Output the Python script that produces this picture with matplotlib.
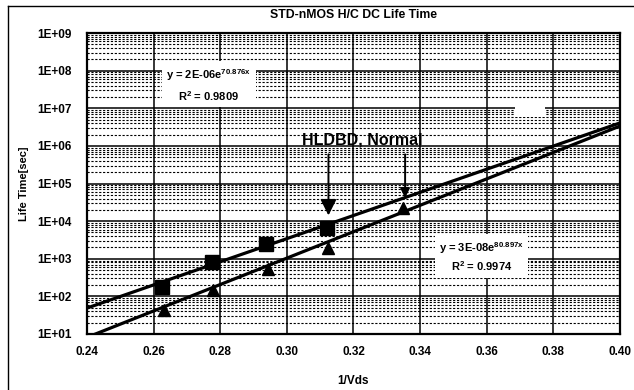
import numpy as np
import matplotlib
matplotlib.use('Agg')
import matplotlib.pyplot as plt
from matplotlib.ticker import LogLocator, NullFormatter
from matplotlib.lines import Line2D

plt.rcParams['font.family'] = ['Liberation Sans', 'DejaVu Sans']
plt.rcParams['mathtext.fontset'] = 'custom'
plt.rcParams['mathtext.rm'] = 'Liberation Sans:bold'
plt.rcParams['mathtext.it'] = 'Liberation Sans:bold'

sq_x = [0.2626, 0.2775, 0.2939, 0.3120]
sq_y = [178, 820, 2450, 6600]
tri_x = [0.2632, 0.2780, 0.2945, 0.3125, 0.3350]
tri_y = [44, 148, 537, 1950, 22000]

# exponential trendlines y = a*exp(b*x), coefficients from the chart labels
fit_a = [2e-6, 3e-8]
fit_b = [70.876, 80.897]
fit_r2 = [0.9809, 0.9974]

x_ticks = [0.24, 0.26, 0.28, 0.30, 0.32, 0.34, 0.36, 0.38, 0.40]
y_ticks = [1e1, 1e2, 1e3, 1e4, 1e5, 1e6, 1e7, 1e8, 1e9]
y_labels = ['1E+01', '1E+02', '1E+03', '1E+04', '1E+05', '1E+06', '1E+07', '1E+08', '1E+09']

fig = plt.figure(figsize=(6.34, 3.9), dpi=100)
ax = fig.add_axes([0.137, 0.1436, 0.841, 0.7714])
ax.set_yscale('log')
ax.set_xlim(0.24, 0.40)
ax.set_ylim(1e1, 1e9)

# grid
ax.set_xticks(x_ticks)
ax.set_xticklabels(['%.2f' % v for v in x_ticks])
ax.set_yticks(y_ticks)
ax.set_yticklabels(y_labels)
ax.yaxis.set_minor_locator(LogLocator(base=10, subs=np.arange(2, 10), numticks=20))
ax.yaxis.set_minor_formatter(NullFormatter())
ax.grid(True, which='major', color='black', lw=1.1)
ax.grid(True, which='minor', axis='y', color='black', lw=0.8, linestyle=(0, (2, 1.5)))
ax.tick_params(which='both', length=0)
ax.tick_params(axis='y', pad=11, labelsize=8.5)
ax.tick_params(axis='x', pad=9, labelsize=8.5)
for lab in ax.get_xticklabels() + ax.get_yticklabels():
    lab.set_fontweight('bold')
for s in ax.spines.values():
    s.set_linewidth(1.6)
ax.set_axisbelow(True)

# blank patch in the grid (upper right)
ax.add_patch(plt.Rectangle((0.3685, 10**6.78), 0.009, 10**7.12 - 10**6.78,
                           facecolor='white', edgecolor='none', zorder=1.5))

# trendlines
xx = np.linspace(0.24, 0.40, 200)
for a, b in zip(fit_a, fit_b):
    ax.plot(xx, a * np.exp(b * xx), color='black', lw=2.3, zorder=3)

ax.plot(sq_x, sq_y, 's', color='black', ms=10, zorder=4)
ax.plot(tri_x, tri_y, '^', color='black', ms=9, zorder=4)

# equation labels
ax.text(0.2766, 10**7.62,
        'y = 2E-06e$^{70.876x}$\nR$^2$ = %.4f' % fit_r2[0],
        ha='center', va='center', fontsize=8, fontweight='bold',
        linespacing=1.5, zorder=5,
        bbox=dict(facecolor='white', edgecolor='none', pad=3))
ax.text(0.3585, 10**3.05,
        'y = 3E-08e$^{80.897x}$\nR$^2$ = %.4f' % fit_r2[1],
        ha='center', va='center', fontsize=8, fontweight='bold',
        linespacing=1.3, zorder=5,
        bbox=dict(facecolor='white', edgecolor='none', pad=3))

# HLDBD annotation with arrows
ax.text(0.3226, 10**6.17, 'HLDBD, Normal', ha='center', va='center',
        fontsize=11.5, fontweight='bold', zorder=5)
ax.annotate('', xy=(0.3125, 1.2e4), xytext=(0.3125, 10**5.85),
            arrowprops=dict(arrowstyle='-|>', color='black', lw=1.4,
                            mutation_scale=24), zorder=5)
ax.annotate('', xy=(0.3355, 3.5e4), xytext=(0.3355, 10**5.85),
            arrowprops=dict(arrowstyle='-|>', color='black', lw=1.4,
                            mutation_scale=14), zorder=5)

ax.set_title('STD-nMOS H/C DC Life Time', fontsize=8.8, fontweight='bold', pad=11)
ax.set_xlabel('1/Vds', fontsize=8.5, fontweight='bold', labelpad=12)
ax.set_ylabel('Life Time[sec]', fontsize=8, fontweight='bold', labelpad=6)

# outer frame (left and top edges visible in the scan)
fig.add_artist(Line2D([0.013, 0.013], [0.0, 0.985], color='black', lw=1.0,
                      transform=fig.transFigure))
fig.add_artist(Line2D([0.013, 1.0], [0.985, 0.985], color='black', lw=1.0,
                      transform=fig.transFigure))

fig.savefig('out.png', dpi=100)
